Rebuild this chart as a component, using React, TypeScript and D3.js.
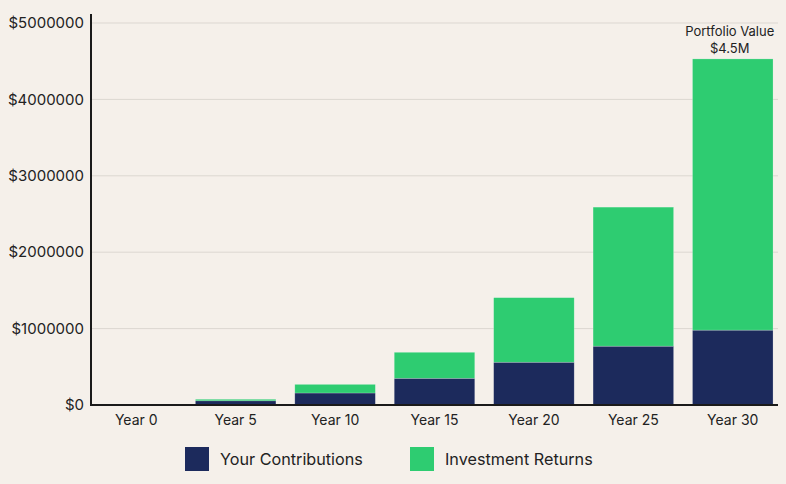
import React, { useEffect } from 'react';
import { scaleBand, scaleLinear, stack } from 'd3';

//canvas
const width = 786;
const height = 484;

//plot area
const plotLeft = 91;
const plotRight = 778;
const plotTop = 23;
const plotBottom = 405;

//colors
const bgColor = '#f5f0ea';
const contribColor = '#1c2a5c';
const returnsColor = '#2ecc71';
const gridColor = '#dcd7d1';
const axisColor = '#1a1a1a';
const textColor = '#222';
const fontFamily = 'Inter, "Noto Sans", sans-serif';

//data
const years = ['Year 0', 'Year 5', 'Year 10', 'Year 15', 'Year 20', 'Year 25', 'Year 30'];
const contributions = [0, 55000, 157000, 350000, 560000, 770000, 980000];
const returns = [0, 20000, 113000, 340000, 845000, 1820000, 3550000];
const yTicks = [0, 1000000, 2000000, 3000000, 4000000, 5000000];
const seriesNames = ['Your Contributions', 'Investment Returns'];

const rows = years.map((year, i) => ({
  year,
  contributions: contributions[i],
  returns: returns[i],
}));

const stacked = stack<any>().keys(['contributions', 'returns'])(rows);
const seriesColors = [contribColor, returnsColor];

//scales
const x = scaleBand()
  .domain(years)
  .range([plotLeft, plotRight])
  .paddingInner(0.19)
  .paddingOuter(0.05);

const y = scaleLinear().domain([0, 5000000]).range([plotBottom, plotTop]);

// final year total for the annotation
const lastIndex = years.length - 1;
const finalTotal = contributions[lastIndex] + returns[lastIndex];
const finalX = x(years[lastIndex])! + x.bandwidth() / 2 - 3;

const App = () => {
  useEffect(() => {
    document.body.style.margin = '0';
    document.body.style.background = bgColor;
  }, []);

  return (
    <svg width={width} height={height} style={{ display: 'block', background: bgColor }}>
      {/* gridlines */}
      {yTicks.map((t) => (
        <line
          key={t}
          x1={plotLeft}
          x2={plotRight}
          y1={y(t)}
          y2={y(t)}
          stroke={gridColor}
          strokeWidth={1}
        />
      ))}

      {/* stacked bars */}
      {stacked.map((layer, li) => (
        <g key={layer.key}>
          {layer.map((d, i) =>
            d[1] - d[0] > 0 ? (
              <rect
                key={years[i]}
                x={x(years[i])}
                y={y(d[1])}
                width={x.bandwidth()}
                height={y(d[0]) - y(d[1])}
                fill={seriesColors[li]}
                stroke="#ffffff"
                strokeOpacity={0.35}
                strokeWidth={0.6}
              />
            ) : null
          )}
        </g>
      ))}

      {/* axes */}
      <line x1={plotLeft} x2={plotLeft} y1={14} y2={plotBottom + 1} stroke={axisColor} strokeWidth={2} />
      <line x1={plotLeft} x2={plotRight} y1={plotBottom} y2={plotBottom} stroke={axisColor} strokeWidth={2} />

      {/* y tick labels */}
      {yTicks.map((t) => (
        <text
          key={t}
          x={plotLeft - 7}
          y={y(t)}
          dy="0.35em"
          textAnchor="end"
          fontFamily={fontFamily}
          fontSize={15}
          fill={textColor}
        >
          {'$' + t}
        </text>
      ))}

      {/* x tick labels */}
      {years.map((yr) => (
        <text
          key={yr}
          x={x(yr)! + x.bandwidth() / 2}
          y={plotBottom + 20}
          textAnchor="middle"
          fontFamily={fontFamily}
          fontSize={14}
          fill={textColor}
        >
          {yr}
        </text>
      ))}

      {/* annotation above the final bar */}
      <text x={finalX} y={y(finalTotal) - 23} textAnchor="middle" fontFamily={fontFamily} fontSize={13} fill={textColor}>
        Portfolio Value
      </text>
      <text x={finalX} y={y(finalTotal) - 6} textAnchor="middle" fontFamily={fontFamily} fontSize={13} fill={textColor}>
        {'$' + (finalTotal / 1000000).toFixed(1) + 'M'}
      </text>

      {/* legend */}
      {seriesNames.map((name, i) => {
        const lx = 185 + i * 225;
        return (
          <g key={name} transform={`translate(${lx},447)`}>
            <rect width={24} height={24} fill={seriesColors[i]} />
            <text x={35} y={12} dy="0.35em" fontFamily={fontFamily} fontSize={16.2} fill={textColor}>
              {name}
            </text>
          </g>
        );
      })}
    </svg>
  );
};

export default App;
